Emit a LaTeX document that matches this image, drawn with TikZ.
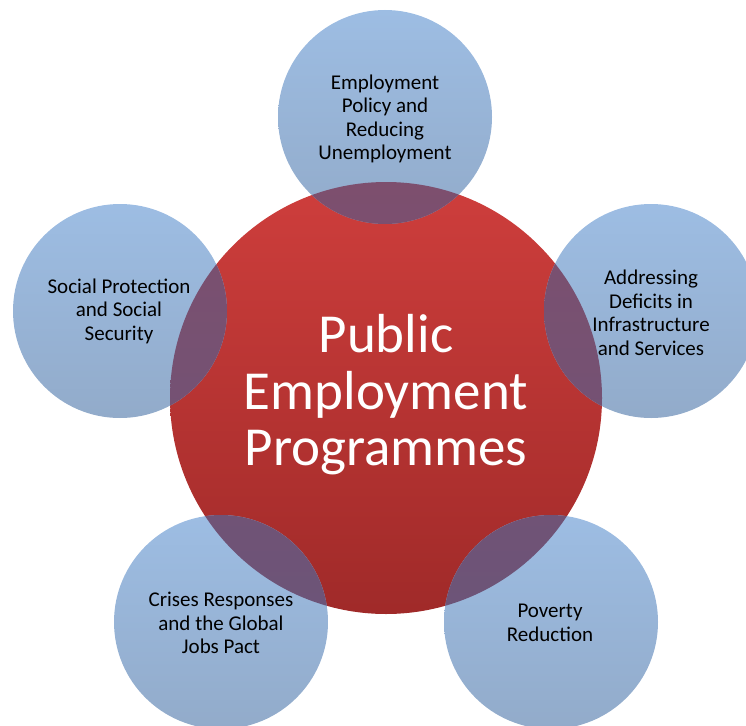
\documentclass[tikz,border=0pt]{standalone}
\usepackage{fontspec}
\setmainfont{Carlito}
\definecolor{redtop}{RGB}{206,62,60}
\definecolor{redbot}{RGB}{160,42,41}
\definecolor{bluetop}{RGB}{157,189,227}
\definecolor{bluebot}{RGB}{146,171,202}
\definecolor{purptop}{RGB}{125,79,110}
\definecolor{purpbot}{RGB}{108,84,120}
\tikzset{
  bubble/.style={circle, minimum size=214pt, inner sep=0pt, draw=none, top color=bluetop, bottom color=bluebot},
  hub/.style={circle, minimum size=432pt, inner sep=0pt, draw=none, top color=redtop, bottom color=redbot},
  smalltext/.style={align=center, inner sep=0pt, text=black, font=\fontsize{21}{23.5}\selectfont},
  bigtext/.style={align=center, inner sep=0pt, text=white, font=\fontsize{55}{56.5}\selectfont},
}
\begin{document}
\begin{tikzpicture}[x=1pt,y=-1pt]
\useasboundingbox (0,0) rectangle (746,725);
\clip (0,0) rectangle (746,725);
\node[hub] (hub) at (386,398) {};
\node[bubble] (t) at (385,117) {};
\node[bubble] (l) at (120,311) {};
\node[bubble] (r) at (651,311) {};
\node[bubble] (bl) at (221,622) {};
\node[bubble] (br) at (551,622) {};
\foreach \n in {t,l,r,bl,br}{
  \begin{scope}
    \clip (\n.center) circle (107pt);
    \shade[top color=purptop, bottom color=purpbot] (hub.center) circle (216pt);
  \end{scope}
}
\node[bigtext] (hubtext) at (386,395) {Public\\Employment\\Programmes};
\node[smalltext] (ttext) at (385,119) {Employment\\Policy and\\Reducing\\Unemployment};
\node[smalltext] (ltext) at (119,311) {Social Protection\\and Social\\Security};
\node[smalltext] (rtext) at (651,313) {Addressing\\Deficits in\\Infrastructure\\and Services};
\node[smalltext] (bltext) at (221,623) {Crises Responses\\and the Global\\Jobs Pact};
\node[smalltext] (brtext) at (550,623) {Poverty\\Reduction};
\end{tikzpicture}
\end{document}
